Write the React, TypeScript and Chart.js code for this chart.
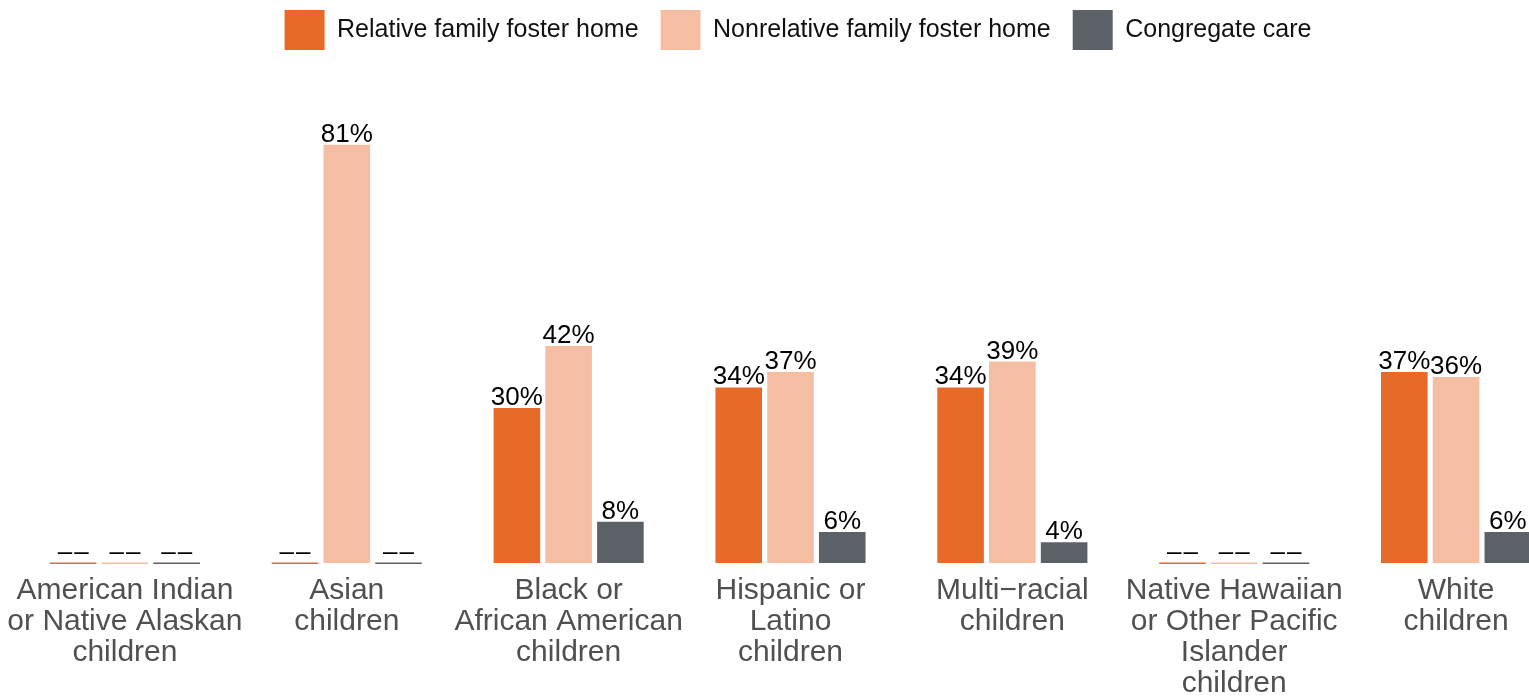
import React, { useEffect, useRef } from "react";
import { Chart, registerables } from "chart.js";

Chart.register(...registerables);

const categories: string[][] = [
  ["American Indian", "or Native Alaskan", "children"],
  ["Asian", "children"],
  ["Black or", "African American", "children"],
  ["Hispanic or", "Latino", "children"],
  ["Multi\u2212racial", "children"],
  ["Native Hawaiian", "or Other Pacific", "Islander", "children"],
  ["White", "children"],
];

const seriesNames = [
  "Relative family foster home",
  "Nonrelative family foster home",
  "Congregate care",
];

const relativeValues: (number | null)[] = [null, null, 30, 34, 34, null, 37];
const nonrelativeValues: (number | null)[] = [null, 81, 42, 37, 39, null, 36];
const congregateValues: (number | null)[] = [null, null, 8, 6, 4, null, 6];

const seriesColors = ["#E86A28", "#F5BEA3", "#5C6168"];
const missingLabel = "\u2013\u2013";

const FONT = "'Liberation Sans', Arial, Helvetica, sans-serif";

const barLabelPlugin = {
  id: "barLabels",
  afterDatasetsDraw(chart: any) {
    const ctx = chart.ctx;
    chart.data.datasets.forEach((ds: any, di: number) => {
      const meta = chart.getDatasetMeta(di);
      meta.data.forEach((el: any, i: number) => {
        const v = ds.data[i];
        const { x, y, base, width } = el.getProps(["x", "y", "base", "width"], true);
        ctx.save();
        ctx.font = `26px ${FONT}`;
        ctx.textAlign = "center";
        ctx.textBaseline = "alphabetic";
        if (v === null || v === undefined) {
          ctx.fillStyle = ds.backgroundColor;
          ctx.fillRect(x - width / 2, base - 0.5, width, 1.5);
          ctx.fillStyle = "#000";
          (ctx as any).letterSpacing = "2px";
          ctx.fillText(missingLabel, x + 1, base - 3);
        } else {
          ctx.fillStyle = "#000";
          ctx.fillText(`${v}%`, x, y - 3);
        }
        ctx.restore();
      });
    });
  },
};

export default function App() {
  const canvasRef = useRef<HTMLCanvasElement | null>(null);

  useEffect(() => {
    if (!canvasRef.current) return;
    Chart.defaults.font.family = FONT;
    const chart = new Chart(canvasRef.current, {
      type: "bar",
      data: {
        labels: categories,
        datasets: [
          { label: seriesNames[0], data: relativeValues, backgroundColor: seriesColors[0], borderWidth: 0 },
          { label: seriesNames[1], data: nonrelativeValues, backgroundColor: seriesColors[1], borderWidth: 0 },
          { label: seriesNames[2], data: congregateValues, backgroundColor: seriesColors[2], borderWidth: 0 },
        ],
      },
      options: {
        animation: false,
        responsive: true,
        maintainAspectRatio: false,
        events: [],
        layout: { padding: { left: 14, right: 0, top: -12, bottom: 0 } },
        datasets: {
          bar: { categoryPercentage: 0.7, barPercentage: 0.9 },
        },
        plugins: {
          tooltip: { enabled: false },
          legend: {
            position: "top",
            align: "center",
            labels: {
              boxWidth: 40,
              boxHeight: 40,
              padding: 22,
              color: "#111",
              font: { size: 25, family: FONT },
            },
          },
        },
        scales: {
          x: {
            grid: { display: false, drawTicks: false },
            border: { display: false },
            ticks: {
              padding: 12,
              color: "#505050",
              autoSkip: false,
              maxRotation: 0,
              minRotation: 0,
              font: { size: 30, family: FONT, lineHeight: "31px" },
            },
            afterFit: (scale: any) => {
              scale.paddingLeft = 0;
              scale.paddingRight = 0;
            },
          },
          y: {
            position: "right",
            min: 0,
            max: 97.4,
            grid: { display: false, drawTicks: false },
            border: { display: false },
            ticks: { display: false },
            afterFit: (scale: any) => {
              scale.width = 15;
            },
          },
        },
      },
      plugins: [barLabelPlugin],
    } as any);
    return () => chart.destroy();
  }, []);

  return (
    <div
      style={{
        position: "fixed",
        left: 0,
        top: 0,
        width: 1529,
        height: 698,
        overflow: "hidden",
        background: "#fff",
      }}
    >
      <div style={{ position: "relative", width: 1582, height: 711 }}>
        <canvas ref={canvasRef} />
      </div>
    </div>
  );
}
